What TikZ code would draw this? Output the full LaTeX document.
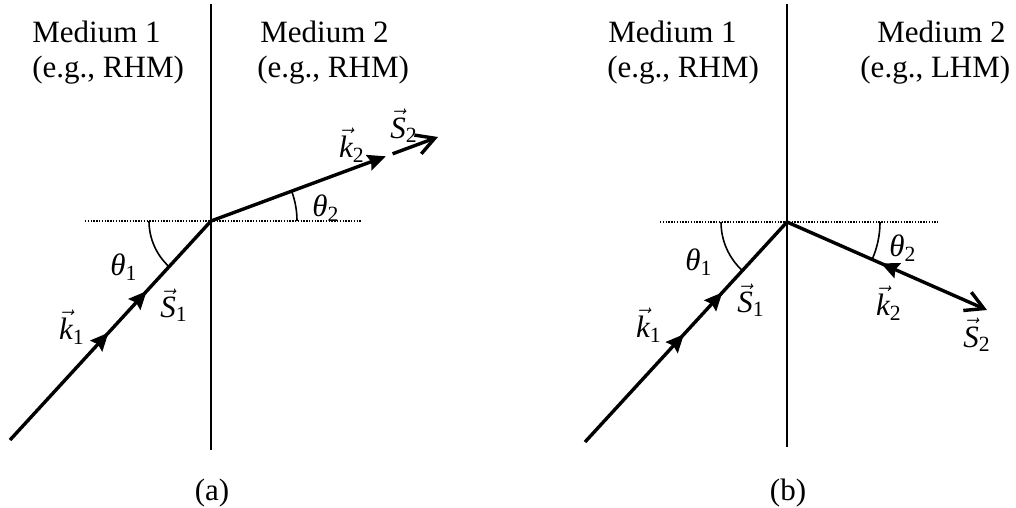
\documentclass[tikz,border=0pt]{standalone}
\usepackage{amsmath}
\usepackage{fontspec}
\setmainfont{Liberation Serif}
\usetikzlibrary{arrows.meta,decorations.markings}
\newcommand{\vlab}[2]{$\vec{\textit{#1}}_{\text{#2}}$}
\newcommand{\tlab}[1]{$\textit{θ}_{\text{#1}}$}
\tikzset{
  ray/.style={line width=1.7pt},
  interface/.style={line width=1pt},
  normalline/.style={line width=0.9pt, dash pattern=on 0.7pt off 0.7pt},
  anglearc/.style={line width=0.8pt},
  txt/.style={font=\fontsize{15.5}{18}\selectfont, inner sep=0pt},
  lbl/.style={font=\fontsize{15.5}{18}\selectfont, inner sep=0pt},
  tri/.style={Stealth[length=9pt,width=8pt,inset=1.2pt]},
  fwdmarks/.style={postaction={decorate}, decoration={markings,
     mark=at position 0.49 with {\arrow{Stealth[length=9pt,width=8pt,inset=1.2pt]}},
     mark=at position 0.68 with {\arrow{Stealth[length=9pt,width=8pt,inset=1.2pt]}}}},
  backmark/.style={postaction={decorate}, decoration={markings,
     mark=at position 0.47 with {\arrowreversed{Stealth[length=9pt,width=8pt,inset=1.2pt]}}}},
  barb/.style={-{Straight Barb[length=9pt,width=10pt]}},
}
\begin{document}
\begin{tikzpicture}[x=0.5pt,y=-0.5pt]
\useasboundingbox (0,0) rectangle (1016,508);
% ---------- panel (a)
\coordinate (O1) at (211,221);
\coordinate (A1) at (10,440);
\coordinate (P1) at (385.8,156.3);
\coordinate (Q1) at (392.6,153.8);
\coordinate (E1) at (438,137);
\coordinate (T1) at (211,4);
\coordinate (B1) at (211,450);
\coordinate (L1) at (85,221);
\coordinate (R1) at (362,221);
\draw[interface] (T1) -- (B1);
\draw[normalline] (L1) -- (R1);
\draw[ray, fwdmarks] (A1) -- (O1);
\draw[ray, -{Stealth[length=9pt,width=8pt,inset=1.2pt]}] (O1) -- (P1);
\draw[ray, barb] (Q1) -- (E1);
\draw[anglearc] ([shift={(180:62)}]O1) arc[start angle=180, end angle=132.5, radius=62];
\draw[anglearc] ([shift={(0:86)}]O1) arc[start angle=0, end angle=-20.3, radius=86];
\node[txt, anchor=base west] (m1a) at (32,43) {Medium 1};
\node[txt, anchor=base west] (e1a) at (32,78) {(e.g., RHM)};
\node[txt, anchor=base west] (m2a) at (260,43) {Medium 2};
\node[txt, anchor=base west] (e2a) at (257,78) {(e.g., RHM)};
\node[txt, anchor=base] (capa) at (212,500) {(a)};
\node[lbl] (k1a) at (72,327) {\vlab{k}{1}};
\node[lbl] (s1a) at (174,305) {\vlab{S}{1}};
\node[lbl] (t1a) at (124,267) {\tlab{1}};
\node[lbl] (t2a) at (326,208) {\tlab{2}};
\node[lbl] (k2a) at (352,145) {\vlab{k}{2}};
\node[lbl] (s2a) at (404,126) {\vlab{S}{2}};
% ---------- panel (b)
\coordinate (O2) at (787,222);
\coordinate (A2) at (585,442);
\coordinate (E2) at (987,310);
\coordinate (T2) at (787,4);
\coordinate (B2) at (787,447);
\coordinate (L2) at (660,222);
\coordinate (R2) at (938,222);
\draw[interface] (T2) -- (B2);
\draw[normalline] (L2) -- (R2);
\draw[ray, fwdmarks] (A2) -- (O2);
\draw[ray, barb, backmark] (O2) -- (E2);
\draw[anglearc] ([shift={(180:66)}]O2) arc[start angle=180, end angle=132.6, radius=66];
\draw[anglearc] ([shift={(0:93)}]O2) arc[start angle=0, end angle=23.75, radius=93];
\node[txt, anchor=base west] (m1b) at (608,43) {Medium 1};
\node[txt, anchor=base west] (e1b) at (607,78) {(e.g., RHM)};
\node[txt, anchor=base west] (m2b) at (877,43) {Medium 2};
\node[txt, anchor=base west] (e2b) at (860,78) {(e.g., LHM)};
\node[txt, anchor=base] (capb) at (788,500) {(b)};
\node[lbl] (t1b) at (699,262) {\tlab{1}};
\node[lbl] (s1b) at (751,300) {\vlab{S}{1}};
\node[lbl] (k1b) at (649,325) {\vlab{k}{1}};
\node[lbl] (t2b) at (903,248) {\tlab{2}};
\node[lbl] (k2b) at (889,303) {\vlab{k}{2}};
\node[lbl] (s2b) at (977,335) {\vlab{S}{2}};
\end{tikzpicture}
\end{document}
